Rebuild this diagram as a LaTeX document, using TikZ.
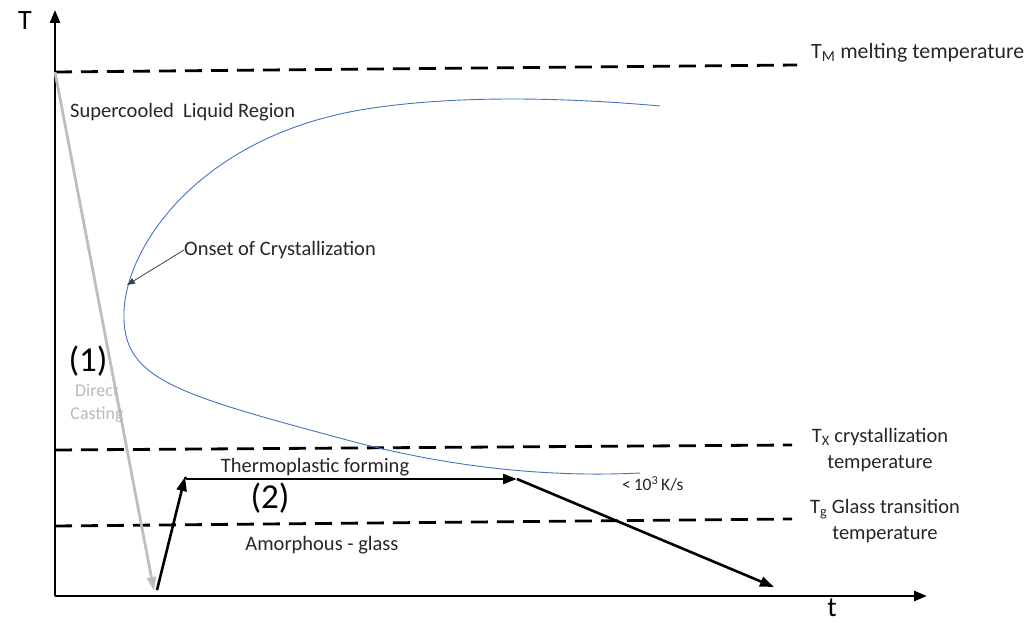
\documentclass[tikz,border=0pt]{standalone}
\usepackage{fontspec}
\setmainfont{Carlito}
\usetikzlibrary{arrows.meta}
\definecolor{curveblue}{RGB}{68,114,196}
\definecolor{castgray}{RGB}{190,190,190}
\definecolor{castlbl}{RGB}{185,185,185}
\definecolor{txt}{RGB}{38,38,38}
\begin{document}
\begin{tikzpicture}[x=1pt,y=-1pt,
  axisline/.style={line width=2.6pt,-{Triangle[length=13pt,width=10pt]}},
  tline/.style={line width=2.8pt,dash pattern=on 17pt off 9pt},
  procline/.style={line width=2.6pt,-{Triangle[length=14pt,width=10pt]}},
  castline/.style={line width=2.8pt,castgray,-{Triangle[length=14pt,width=9pt]}},
  curveline/.style={line width=0.9pt,curveblue},
  lbl/.style={font=\fontsize{20.5}{25.5}\selectfont,text=txt,inner sep=0pt},
  smalllbl/.style={font=\fontsize{17.5}{20}\selectfont,text=txt,inner sep=0pt},
  biglbl/.style={font=\fontsize{35}{38}\selectfont,inner sep=0pt},
  axislbl/.style={font=\fontsize{28}{30}\selectfont,inner sep=0pt},
  castlabel/.style={font=\fontsize{18}{23}\selectfont,text=castlbl,inner sep=0pt,align=center}]
\useasboundingbox (0,0) rectangle (1034,623);
% axes
\coordinate (O) at (55,596);
\coordinate (Ytop) at (55,10);
\coordinate (Xend) at (927,596);
\draw[axisline] (O) -- (Ytop);
\draw[axisline] (O) -- (Xend);
\node[axislbl] (Tlbl) at (25,21) {T};
\node[axislbl] (tlbl) at (832,608) {t};
% temperature lines
\coordinate (TMa) at (55,72);
\coordinate (TMb) at (797,65);
\coordinate (TXa) at (55,450);
\coordinate (TXb) at (792,445);
\coordinate (TGa) at (55,526);
\coordinate (TGb) at (792,519);
\draw[tline] (TMa) -- (TMb);
\draw[tline] (TXa) -- (TXb);
\draw[tline] (TGa) -- (TGb);
\node[lbl,font=\fontsize{21.8}{26}\selectfont,anchor=west] (TMlbl) at (811,53) {T\textsubscript{M} melting temperature};
\node[lbl,align=center] (TXlbl) at (880,450) {T\textsubscript{X} crystallization\\temperature};
\node[lbl,align=center] (TGlbl) at (885,521) {T\textsubscript{g} Glass transition\\temperature};
% crystallization curve
\draw[curveline] (660,106) .. controls (560,97) and (460,96) .. (380,107)
  .. controls (200,130) and (122,250) .. (124,317)
  .. controls (124,380) and (180,395) .. (347,440)
  .. controls (440,465) and (540,478) .. (640,473);
\node[lbl,anchor=west] (suplbl) at (70,112) {Supercooled\ \ Liquid Region};
\node[lbl,anchor=west] (onset) at (184,250) {Onset of Crystallization};
\coordinate (onsettip) at (127,285);
\draw[line width=0.8pt,black!75,-{Triangle[length=8pt,width=6pt]}] (onset.west) -- (onsettip);
% process (1)
\coordinate (castend) at (154,591);
\draw[castline] (TMa) -- (castend);
\node[biglbl] (one) at (88,361) {(1)};
\node[castlabel] (cast) at (97,403) {Direct\\Casting};
% process (2)
\coordinate (P0) at (157,590);
\coordinate (P1) at (185,477);
\coordinate (P2) at (517,479);
\coordinate (P3) at (774,587);
\draw[procline] (P0) -- (P1);
\draw[line width=2.6pt] (P1) -- (186,479);
\draw[procline] (186,479) -- (P2);
\draw[procline] (P2) -- (P3);
\node[lbl] (thermo) at (315,467) {Thermoplastic forming};
\node[biglbl] (two) at (270,498) {(2)};
\node[lbl] (amorph) at (322,545) {Amorphous - glass};
\node[smalllbl,anchor=west] (rate) at (622,484) {<\,10\textsuperscript{3}\,K/s};
\end{tikzpicture}
\end{document}
